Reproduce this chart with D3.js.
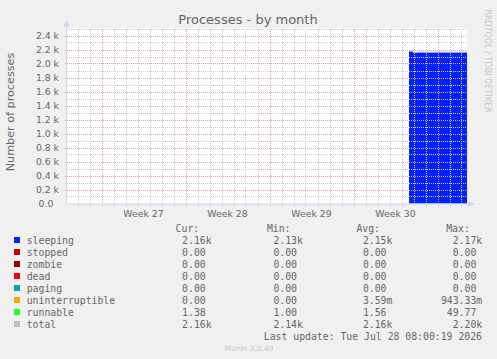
<!DOCTYPE html>
<html lang="en">
<head>
<meta charset="utf-8" />
<script src="https://d3js.org/d3.v7.min.js"></script>
<title>Processes - by month</title>
<style>
  body { margin: 0; background: #f0f0f0; }
  svg { display: block; }
</style>
</head>
<body>
<div id="container"></div>
<script>
// legend rows
const names = ["sleeping", "stopped", "zombie", "dead", "paging", "uninterruptible", "runnable", "total"];
const colors = ["#0022ff", "#cc0000", "#990000", "#ff0000", "#00aaaa", "#ffa500", "#22ff22", "#c0c0c0"];
const curVals = [2160, 0, 0, 0, 0, 0, 1.38, 2160];
const minVals = [2130, 0, 0, 0, 0, 0, 1.00, 2140];
const avgVals = [2150, 0, 0, 0, 0, 0.00359, 1.56, 2160];
const maxVals = [2170, 0, 0, 0, 0, 0.94333, 49.77, 2200];

// samples (step data, only the last days have data)
const times = ["2026-07-24T15:00:00Z", "2026-07-24T23:00:00Z", "2026-07-25T07:00:00Z", "2026-07-29T11:00:00Z"];
const sleeping = [2175, 2158, 2160, 2160];
const stopped = [0, 0, 0, 0];
const zombie = [0, 0, 0, 0];
const dead = [0, 0, 0, 0];
const paging = [0, 0, 0, 0];
const uninterruptible = [0, 0, 0, 0];
const runnable = [1.5, 1.4, 1.4, 1.4];
const total = [2177, 2160, 2162, 2162];

const yTicks = [0, 200, 400, 600, 800, 1000, 1200, 1400, 1600, 1800, 2000, 2200, 2400];
const weekStarts = ["2026-06-29", "2026-07-06", "2026-07-13", "2026-07-20"];
const weekLabels = ["Week 27", "Week 28", "Week 29", "Week 30"];
const timeStart = new Date("2026-06-26T03:00:00Z");
const timeEnd = new Date("2026-07-29T11:00:00Z");

const W = 497, H = 359;
const pLeft = 67, pRight = 467, pTop = 28.5, pBottom = 203.5;
const fontSans = "'DejaVu Sans', sans-serif";
const fontMono = "'DejaVu Sans Mono', monospace";
const textCol = "#666";

const svg = d3.select('#container').append('svg')
  .attr('width', W).attr('height', H);

svg.append('rect').attr('width', W).attr('height', H).attr('fill', '#f0f0f0');
svg.append('rect').attr('x', pLeft).attr('y', pTop)
  .attr('width', pRight - pLeft).attr('height', pBottom - pTop).attr('fill', '#fff');

const x = d3.scaleUtc().domain([timeStart, timeEnd]).range([pLeft, pRight]);
const y = d3.scaleLinear().domain([0, 2500]).range([pBottom, pTop]);

// stacked areas
const rows = times.map((t, i) => ({
  t: new Date(t), sleeping: sleeping[i], stopped: stopped[i], zombie: zombie[i], dead: dead[i],
  paging: paging[i], uninterruptible: uninterruptible[i], runnable: runnable[i], total: total[i]
}));
const stack = d3.stack().keys(names.slice(0, 7))(rows);
const area = d3.area().curve(d3.curveStepAfter)
  .x(d => x(d.data.t)).y0(d => y(d[0])).y1(d => y(d[1]));
svg.selectAll('.layer').data(stack).enter().append('path')
  .attr('d', area).attr('fill', (d, i) => colors[i]);

svg.append('path').datum(rows)
  .attr('d', d3.line().curve(d3.curveStepAfter).x(d => x(d.t)).y(d => y(d.total)))
  .attr('fill', 'none').attr('stroke', '#c0c0c0').attr('stroke-width', 1);

// grid (rrdtool draws it over the data)
const minorY = d3.range(100, 2501, 100).filter(v => v % 200 !== 0);
const days = d3.utcDay.range(timeStart, timeEnd).filter(d => d.getUTCDay() !== 1);
const weeks = d3.utcMonday.range(timeStart, timeEnd);
const grid = svg.append('g').attr('shape-rendering', 'crispEdges');
const minCol = '#cccccc', majCol = '#e8a0a0';

grid.selectAll('.hmin').data(minorY).enter().append('line')
  .attr('x1', pLeft).attr('x2', pRight)
  .attr('y1', d => Math.round(y(d)) + 0.5).attr('y2', d => Math.round(y(d)) + 0.5)
  .attr('stroke', minCol).attr('stroke-dasharray', '1,1');
grid.selectAll('.vmin').data(days).enter().append('line')
  .attr('x1', d => Math.round(x(d)) + 0.5).attr('x2', d => Math.round(x(d)) + 0.5)
  .attr('y1', pTop).attr('y2', pBottom + 2)
  .attr('stroke', minCol).attr('stroke-dasharray', '1,1');
grid.selectAll('.hmaj').data(yTicks.slice(1)).enter().append('line')
  .attr('x1', pLeft - 2).attr('x2', pRight)
  .attr('y1', d => Math.round(y(d)) + 0.5).attr('y2', d => Math.round(y(d)) + 0.5)
  .attr('stroke', majCol).attr('stroke-dasharray', '1,1');
grid.selectAll('.vmaj').data(weeks).enter().append('line')
  .attr('x1', d => Math.round(x(d)) + 0.5).attr('x2', d => Math.round(x(d)) + 0.5)
  .attr('y1', pTop).attr('y2', pBottom + 3)
  .attr('stroke', majCol).attr('stroke-dasharray', '1,1');

// axes
const axisCol = '#cfd6f8';
svg.append('line').attr('x1', pLeft - 0.5).attr('x2', pLeft - 0.5).attr('y1', pTop - 6).attr('y2', pBottom + 0.5)
  .attr('stroke', axisCol);
svg.append('line').attr('x1', pLeft - 1).attr('x2', pRight + 3).attr('y1', pBottom + 0.5).attr('y2', pBottom + 0.5)
  .attr('stroke', axisCol);
svg.append('path').attr('d', `M${pLeft - 3.5},${pTop - 2} L${pLeft - 0.5},${pTop - 9} L${pLeft + 2.5},${pTop - 2} Z`).attr('fill', axisCol);
svg.append('path').attr('d', `M${pRight + 1},${pBottom - 2.5} L${pRight + 8},${pBottom + 0.5} L${pRight + 1},${pBottom + 3.5} Z`).attr('fill', axisCol);

const yAxis = d3.axisLeft(y).tickValues(yTicks).tickSize(0).tickPadding(0)
  .tickFormat(d => d === 0 ? '0.0' : d3.format('.1f')(d / 1000) + ' k');
const ya = svg.append('g').attr('transform', `translate(59,0)`).call(yAxis);
ya.select('.domain').remove();
ya.selectAll('text').attr('fill', textCol).style('font-family', fontSans).style('font-size', '9.3px')
  .attr('dy', '0.35em').attr('x', d => d === 0 ? -5.7 : 0);

const xa = svg.append('g');
xa.selectAll('text').data(weekStarts).enter().append('text')
  .attr('x', d => x(d3.utcHour.offset(new Date(d + 'T00:00:00Z'), 84)))
  .attr('y', 216.5).attr('text-anchor', 'middle')
  .attr('fill', textCol).style('font-family', fontSans).style('font-size', '9.3px')
  .text((d, i) => weekLabels[i]);

// titles
svg.append('text').attr('x', 248).attr('y', 23.5).attr('text-anchor', 'middle')
  .attr('fill', textCol).style('font-family', fontSans).style('font-size', '13px')
  .text('Processes - by month');
svg.append('text').attr('transform', 'translate(14,112) rotate(-90)').attr('text-anchor', 'middle')
  .attr('fill', textCol).style('font-family', fontSans).style('font-size', '11.2px')
  .text('Number of processes');
svg.append('text').attr('transform', 'translate(485,61) rotate(90)').attr('text-anchor', 'middle')
  .attr('fill', '#c8c8c8').style('font-family', fontSans).style('font-size', '8px')
  .text('RRDTOOL / TOBI OETIKER');

// legend
const fmt = v => {
  if (v === 0) return ['0.00', ''];
  if (v >= 1000) return [(v / 1000).toFixed(2), 'k'];
  if (v < 0.999) return [(v * 1000).toFixed(2), 'm'];
  return [v.toFixed(2), ''];
};
const cw = 5.9;
const colEdges = [205.7, 297, 386.5, 476.3];
const heads = ['Cur:', 'Min:', 'Avg:', 'Max:'];
const legend = svg.append('g').style('font-family', fontMono).style('font-size', '9.8px').attr('fill', textCol);

legend.selectAll('.head').data(heads).enter().append('text')
  .attr('x', (d, i) => colEdges[i] - 6.5).attr('y', 231.5).attr('text-anchor', 'end').text(d => d);

const cols = [curVals, minVals, avgVals, maxVals];
names.forEach((n, r) => {
  const ty = 243.5 + r * 12;
  legend.append('rect').attr('x', 14).attr('y', ty - 6.5).attr('width', 6).attr('height', 6)
    .attr('fill', colors[r]);
  legend.append('text').attr('x', 26.7).attr('y', ty).text(n);
  cols.forEach((vals, c) => {
    const [num, suf] = fmt(vals[r]);
    legend.append('text').attr('x', colEdges[c] + (suf ? cw : 0)).attr('y', ty)
      .attr('text-anchor', 'end').text(num + suf);
  });
});

legend.append('text').attr('x', 482).attr('y', 339.5).attr('text-anchor', 'end')
  .text('Last update: Tue Jul 28 08:00:19 2026');

svg.append('text').attr('x', 249).attr('y', 351).attr('text-anchor', 'middle')
  .attr('fill', '#c8c8c8').style('font-family', fontSans).style('font-size', '7.5px')
  .text('Munin 2.0.49');
</script>
</body>
</html>
